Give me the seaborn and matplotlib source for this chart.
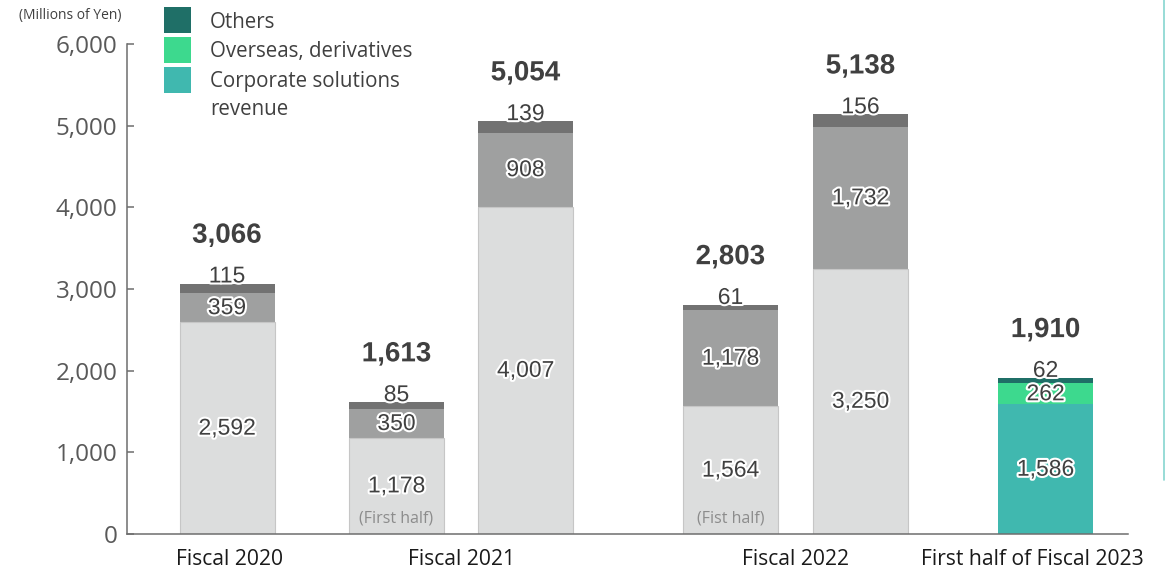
import matplotlib
matplotlib.use("Agg")
import matplotlib.pyplot as plt
import matplotlib.patheffects as pe
from matplotlib.patches import Rectangle
from matplotlib.lines import Line2D
from matplotlib.ticker import FuncFormatter, FixedLocator
import seaborn as sns
import pandas as pd

# Revenue by segment (millions of yen)
periods = ["FY2020", "FY2021 H1", "FY2021", "FY2022 H1", "FY2022", "FY2023 H1"]
corporate = [2592, 1178, 4007, 1564, 3250, 1586]
overseas = [359, 350, 908, 1178, 1732, 262]
others = [115, 85, 139, 61, 156, 62]
totals = [3066, 1613, 5054, 2803, 5138, 1910]
half_notes = ["", "(First half)", "", "(Fist half)", "", ""]
group_labels = ["Fiscal 2020", "Fiscal 2021", "Fiscal 2022", "First half of Fiscal 2023"]
series_names = ["Others", "Overseas, derivatives", "Corporate solutions\nrevenue"]
y_ticks = [0, 1000, 2000, 3000, 4000, 5000, 6000]

# horizontal layout (axis spans 0..1001)
bar_pos = [100, 269.5, 398.5, 603.5, 733.5, 918.5]
group_pos = [103, 334, 668, 905]

# colours: past periods in greys, latest half-year in the segment colours
grey_cols = {"Corporate": "#dcdddd", "Overseas": "#9fa0a0", "Others": "#727272"}
seg_cols = {"Corporate": "#40b8af", "Overseas": "#3dd98e", "Others": "#1f6f67"}

sns.set_theme(style="white")
plt.rcParams["font.family"] = ["Open Sans", "DejaVu Sans"]

W, H = 1165, 571
fig = plt.figure(figsize=(W / 100, H / 100), dpi=100)
ax = fig.add_axes([127 / W, 37 / H, 1001 / W, 490 / H])

df = pd.DataFrame({"pos": bar_pos, "period": periods,
                   "corporate": corporate, "overseas": overseas, "others": others})
df["lvl2"] = df["corporate"] + df["overseas"]
df["lvl3"] = df["lvl2"] + df["others"]


def layer_palette(key):
    return {p: (seg_cols[key] if i == len(periods) - 1 else grey_cols[key])
            for i, p in enumerate(periods)}


# stacked bars: draw cumulative heights from the top layer down
bar_width = 95 / 129
for col, key in [("lvl3", "Others"), ("lvl2", "Overseas"), ("corporate", "Corporate")]:
    sns.barplot(data=df, x="pos", y=col, hue="period", palette=layer_palette(key),
                native_scale=True, dodge=False, width=bar_width, legend=False,
                linewidth=0, saturation=1, ax=ax)

# thin outline on the light grey base bars
for patch in ax.patches[-len(periods):]:
    fc = patch.get_facecolor()
    if abs(fc[0] - fc[1]) < 0.02:
        patch.set_edgecolor("#c6c6c6")
        patch.set_linewidth(0.8)

ax.set_xlim(0, 1001)
ax.set_ylim(0, 6000)
ax.set_xlabel("")
ax.set_ylabel("")

for s in ["top", "right"]:
    ax.spines[s].set_visible(False)
for s in ["left", "bottom"]:
    ax.spines[s].set_color("#6e6e6e")
    ax.spines[s].set_linewidth(1.1)

ax.yaxis.set_major_locator(FixedLocator(y_ticks))
ax.yaxis.set_major_formatter(FuncFormatter(lambda v, p: f"{int(v):,}"))
ax.tick_params(axis="y", direction="in", length=5, width=1.1, color="#6e6e6e",
               labelsize=17.5, labelcolor="#595959", pad=7, left=True)
ax.set_xticks(group_pos)
ax.set_xticklabels(group_labels)
ax.tick_params(axis="x", length=0, labelsize=15.2, labelcolor="#1a1a1a", pad=11)

halo = [pe.withStroke(linewidth=3, foreground="white")]
num_font = dict(family=["Liberation Sans", "DejaVu Sans"], color="#404040")

for i, row in df.iterrows():
    x = row["pos"]
    ax.text(x, row["corporate"] / 2, f"{row['corporate']:,}", ha="center", va="center",
            fontsize=16.5, path_effects=halo, **num_font)
    ax.text(x, row["corporate"] + row["overseas"] / 2, f"{row['overseas']:,}",
            ha="center", va="center", fontsize=16.5, path_effects=halo, **num_font)
    ax.annotate(f"{row['others']:,}", xy=(x, row["lvl3"]), xytext=(0, 5.5),
                textcoords="offset points", ha="center", va="center",
                fontsize=16.5, path_effects=halo, **num_font)
    ax.annotate(f"{totals[i]:,}", xy=(x, row["lvl3"]), xytext=(0, 34.5),
                textcoords="offset points", ha="center", va="center",
                fontsize=20, fontweight="bold", path_effects=halo, **num_font)
    if half_notes[i]:
        ax.annotate(half_notes[i], xy=(x, 0), xytext=(0, 11.5),
                    textcoords="offset points", ha="center", va="center",
                    fontsize=11.5, color="#8c8c8c")


def fx(px):
    return px / W


def fy(py):
    return 1 - py / H


# unit note
fig.text(fx(70), fy(15), "(Millions of Yen)", ha="center", va="center",
         fontsize=10, color="#404040")

# legend
legend_cols = [seg_cols["Others"], seg_cols["Overseas"], seg_cols["Corporate"]]
legend_tops = [7, 37, 67]
for name, c, top in zip(series_names, legend_cols, legend_tops):
    fig.add_artist(Rectangle((fx(164), fy(top + 26)), 27 / W, 26 / H,
                             transform=fig.transFigure, facecolor=c, edgecolor="none"))
    lines = name.split("\n")
    for k, line in enumerate(lines):
        fig.text(fx(210), fy(top + 15 + 28 * k), line, ha="left", va="center",
                 fontsize=14.8, color="#404040")

# page divider on the right
fig.add_artist(Line2D([fx(1164), fx(1164)], [fy(0), fy(480)],
                      transform=fig.transFigure, color="#86d5cf", linewidth=1.2))

fig.savefig("out.png", dpi=100)
